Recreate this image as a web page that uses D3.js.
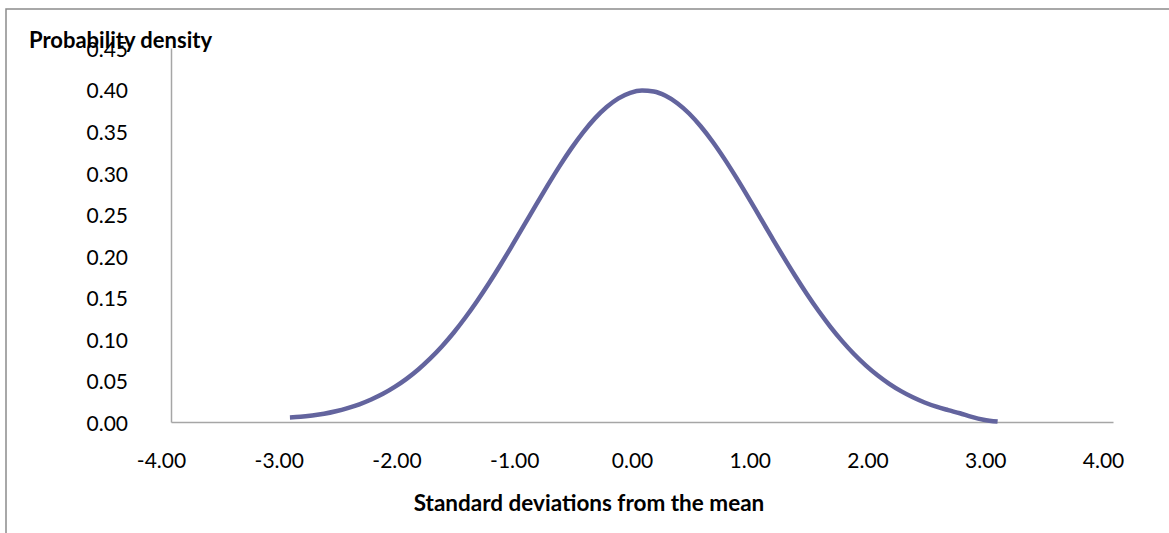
<!DOCTYPE html>
<html>
  <meta charset="utf-8" />
  <style>
    body {
      margin: 0;
      background: #fff;
    }
    text {
      font-family: Lato, "Open Sans", sans-serif;
      fill: #000;
    }
    .title {
      font-weight: bold;
    }
  </style>
  <body>
    <script src="https://d3js.org/d3.v7.min.js"></script>
    <script>
      let width = 1169,
        height = 533;

      // curve (x in sd, y = density)
      let xValues = [
        -2.99, -2.9, -2.8, -2.7, -2.6, -2.5, -2.4, -2.3, -2.2, -2.1, -2.0,
        -1.9, -1.8, -1.7, -1.6, -1.5, -1.4, -1.3, -1.2, -1.1, -1.0, -0.9, -0.8,
        -0.7, -0.6, -0.5, -0.4, -0.3, -0.2, -0.1, 0.0, 0.1, 0.2, 0.3, 0.4, 0.5,
        0.6, 0.7, 0.8, 0.9, 1.0, 1.1, 1.2, 1.3, 1.4, 1.5, 1.6, 1.7, 1.8, 1.9,
        2.0, 2.1, 2.2, 2.3, 2.4, 2.5, 2.6, 2.7, 2.8, 2.9, 3.02,
      ];
      let densities = [
        0.0055, 0.0062, 0.0078, 0.0099, 0.0129, 0.0167, 0.0213, 0.0271, 0.0339,
        0.0422, 0.0519, 0.0632, 0.0762, 0.0909, 0.1074, 0.1257, 0.1456, 0.1669,
        0.1895, 0.2131, 0.2371, 0.2613, 0.285, 0.3079, 0.3292, 0.3485, 0.3653,
        0.379, 0.3894, 0.3961, 0.3989, 0.3977, 0.3925, 0.3836, 0.3712, 0.3555,
        0.3372, 0.3166, 0.2943, 0.2709, 0.2468, 0.2227, 0.1989, 0.1759, 0.154,
        0.1335, 0.1145, 0.0973, 0.0818, 0.0682, 0.0562, 0.0459, 0.0371, 0.0297,
        0.0235, 0.0184, 0.0143, 0.0105, 0.0062, 0.0028, 0.0005,
      ];
      let xTicks = [-4, -3, -2, -1, 0, 1, 2, 3, 4];
      let yTicks = [0, 0.05, 0.1, 0.15, 0.2, 0.25, 0.3, 0.35, 0.4, 0.45];

      let data = xValues.map((x, i) => ({ x: x, y: densities[i] }));

      // plain hyphen for negatives, like the original
      let fmt = (d) => d3.format(".2f")(d).replace("\u2212", "-");

      let svg = d3
        .select("body")
        .append("svg")
        .attr("width", width)
        .attr("height", height);

      // chart area border (only left and top are in frame)
      svg
        .append("path")
        .attr("d", "M6,533V9H1169")
        .attr("fill", "none")
        .attr("stroke", "#8c8c8c")
        .attr("stroke-width", 1.5);

      let x = d3.scaleLinear().domain([-4, 4]).range([171, 1113]);
      let y = d3.scaleLinear().domain([0, 0.45]).range([422, 48]);

      let xAxis = svg
        .append("g")
        .attr("transform", "translate(0,422)")
        .call(
          d3
            .axisBottom(x)
            .tickValues(xTicks)
            .tickSize(0)
            .tickPadding(0)
            .tickFormat(fmt)
        );
      xAxis.select(".domain").attr("stroke", "#a6a6a6").attr("stroke-width", 1.5);
      xAxis
        .selectAll(".tick text")
        .attr("y", 46)
        .attr("dy", 0)
        .attr("dx", -10)
        .style("font-size", "21px")
        .style("font-family", "Lato, sans-serif");

      let yAxis = svg
        .append("g")
        .attr("transform", "translate(171,0)")
        .call(
          d3
            .axisLeft(y)
            .tickValues(yTicks)
            .tickSize(0)
            .tickPadding(43)
            .tickFormat(fmt)
        );
      yAxis.select(".domain").attr("stroke", "#a6a6a6").attr("stroke-width", 1.5);
      yAxis
        .selectAll(".tick text")
        .attr("dy", "0.4em")
        .style("font-size", "21px")
        .style("font-family", "Lato, sans-serif");

      let line = d3
        .line()
        .x((d) => x(d.x))
        .y((d) => y(d.y))
        .curve(d3.curveMonotoneX);

      svg
        .append("path")
        .datum(data)
        .attr("d", line)
        .attr("fill", "none")
        .attr("stroke", "#63649e")
        .attr("stroke-width", 4.5);

      svg
        .append("text")
        .attr("class", "title")
        .attr("x", 29)
        .attr("y", 48)
        .style("font-size", "22px")
        .text("Probability density");

      svg
        .append("text")
        .attr("class", "title")
        .attr("x", 589)
        .attr("y", 511)
        .attr("text-anchor", "middle")
        .style("font-size", "22.5px")
        .text("Standard deviations from the mean");
    </script>
  </body>
</html>
